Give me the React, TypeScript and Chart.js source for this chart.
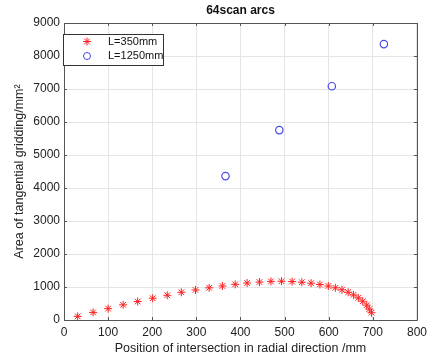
import React, { useEffect, useRef } from "react";
import { Chart, registerables } from "chart.js";

Chart.register(...registerables);

const titleText = "64scan arcs";
const xTitle = "Position of intersection in radial direction /mm";
const yTitle = "Area of tangential gridding/mm²";
const seriesNames = ["L=350mm", "L=1250mm"];

const x350 = [31, 66, 100, 134, 167, 201, 234, 266, 298, 329, 359, 388, 415, 443, 469, 493, 517, 539, 560, 580, 599, 615, 630, 644, 656, 667, 677, 686, 692, 697];
const y350 = [110, 230, 345, 460, 560, 660, 750, 840, 910, 975, 1030, 1080, 1120, 1150, 1170, 1175, 1165, 1145, 1115, 1075, 1030, 975, 915, 840, 760, 670, 570, 450, 330, 220];

const x1250 = [366, 488, 607, 725];
const y1250 = [4360, 5755, 7085, 8360];

const xTicks = [0, 100, 200, 300, 400, 500, 600, 700, 800];
const yTicks = [0, 1000, 2000, 3000, 4000, 5000, 6000, 7000, 8000, 9000];

const FONT = "'Liberation Sans', Arial, sans-serif";
const RED = "#ff2020";
const BLUE = "#4a4ae6";

const framePlugin = {
  id: "frame",
  afterDatasetsDraw(chart: any) {
    const { ctx, chartArea: a, scales } = chart;
    ctx.save();
    ctx.strokeStyle = "#555";
    ctx.lineWidth = 1;
    ctx.beginPath();
    ctx.rect(Math.round(a.left) + 0.5, Math.round(a.top) + 0.5, Math.round(a.right - a.left), Math.round(a.bottom - a.top));
    ctx.stroke();
    ctx.beginPath();
    const tl = 3;
    for (const v of xTicks) {
      const px = Math.round(scales.x.getPixelForValue(v)) + 0.5;
      ctx.moveTo(px, a.bottom);
      ctx.lineTo(px, a.bottom - tl);
      ctx.moveTo(px, a.top);
      ctx.lineTo(px, a.top + tl);
    }
    for (const v of yTicks) {
      const py = Math.round(scales.y.getPixelForValue(v)) + 0.5;
      ctx.moveTo(a.left, py);
      ctx.lineTo(a.left + tl, py);
      ctx.moveTo(a.right, py);
      ctx.lineTo(a.right - tl, py);
    }
    ctx.stroke();

    ctx.fillStyle = "#111";
    ctx.font = `bold 12px ${FONT}`;
    ctx.textAlign = "center";
    ctx.textBaseline = "middle";
    ctx.fillText(titleText, (a.left + a.right) / 2, 11);

    const lx = a.left - 1, ly = a.top + 11, lw = 100, lh = 31;
    ctx.fillStyle = "#fff";
    ctx.fillRect(lx, ly, lw, lh);
    ctx.strokeStyle = "#333";
    ctx.strokeRect(Math.round(lx) + 0.5, Math.round(ly) + 0.5, lw, lh);
    const rows = [ly + 7.5, ly + 22];
    const mx = lx + 24;
    ctx.strokeStyle = RED;
    ctx.beginPath();
    const r = 4;
    const sy = rows[0];
    ctx.moveTo(mx - r, sy); ctx.lineTo(mx + r, sy);
    ctx.moveTo(mx, sy - r); ctx.lineTo(mx, sy + r);
    const d = r * 0.707;
    ctx.moveTo(mx - d, sy - d); ctx.lineTo(mx + d, sy + d);
    ctx.moveTo(mx - d, sy + d); ctx.lineTo(mx + d, sy - d);
    ctx.stroke();
    ctx.strokeStyle = BLUE;
    ctx.beginPath();
    ctx.arc(mx, rows[1], 3.5, 0, Math.PI * 2);
    ctx.stroke();
    ctx.fillStyle = "#111";
    ctx.font = `11px ${FONT}`;
    ctx.textAlign = "left";
    ctx.fillText(seriesNames[0], lx + 45, rows[0]);
    ctx.fillText(seriesNames[1], lx + 45, rows[1]);
    ctx.restore();
  },
};

export default function App() {
  const ref = useRef<HTMLCanvasElement>(null);
  useEffect(() => {
    const d350 = x350.map((x, i) => ({ x, y: y350[i] }));
    const d1250 = x1250.map((x, i) => ({ x, y: y1250[i] }));
    const chart = new Chart(ref.current!, {
      type: "scatter",
      data: {
        datasets: [
          {
            label: seriesNames[0],
            data: d350,
            pointStyle: "star",
            radius: 4,
            borderColor: RED,
            backgroundColor: RED,
            borderWidth: 1,
          },
          {
            label: seriesNames[1],
            data: d1250,
            pointStyle: "circle",
            radius: 3.7,
            borderColor: BLUE,
            backgroundColor: "rgba(0,0,0,0)",
            borderWidth: 1.2,
          },
        ],
      },
      options: {
        animation: false,
        responsive: false,
        devicePixelRatio: 1,
        layout: { padding: { top: 23, right: 12, left: 0, bottom: 0 } },
        plugins: { legend: { display: false }, title: { display: false }, tooltip: { enabled: false } },
        scales: {
          x: {
            type: "linear",
            min: 0,
            max: 800,
            afterBuildTicks: (s: any) => { s.ticks = xTicks.map((v) => ({ value: v })); },
            afterFit: (s: any) => { s.height = 36; },
            grid: { color: "#e4e4e4", drawTicks: false, lineWidth: 1 },
            border: { display: false },
            ticks: { color: "#222", font: { family: FONT, size: 12 }, padding: 5, maxRotation: 0, callback: (v: any) => String(v) },
            title: { display: true, text: xTitle, color: "#222", font: { family: FONT, size: 12.5 }, padding: { top: 0, bottom: 0 } },
          },
          y: {
            type: "linear",
            min: 0,
            max: 9000,
            afterBuildTicks: (s: any) => { s.ticks = yTicks.map((v) => ({ value: v })); },
            afterFit: (s: any) => { s.width = 64; },
            grid: { color: "#e4e4e4", drawTicks: false, lineWidth: 1 },
            border: { display: false },
            ticks: { color: "#222", font: { family: FONT, size: 12 }, padding: 4, callback: (v: any) => String(v) },
            title: { display: true, text: yTitle, color: "#222", font: { family: FONT, size: 12.5 }, padding: { top: 12, bottom: 0 } },
          },
        },
      },
      plugins: [framePlugin],
    } as any);
    return () => chart.destroy();
  }, []);
  return (
    <div style={{ position: "fixed", left: 0, top: 0, width: 432, height: 356, background: "#fff" }}>
      <canvas ref={ref} width={432} height={356} style={{ width: 432, height: 356, display: "block" }} />
    </div>
  );
}
